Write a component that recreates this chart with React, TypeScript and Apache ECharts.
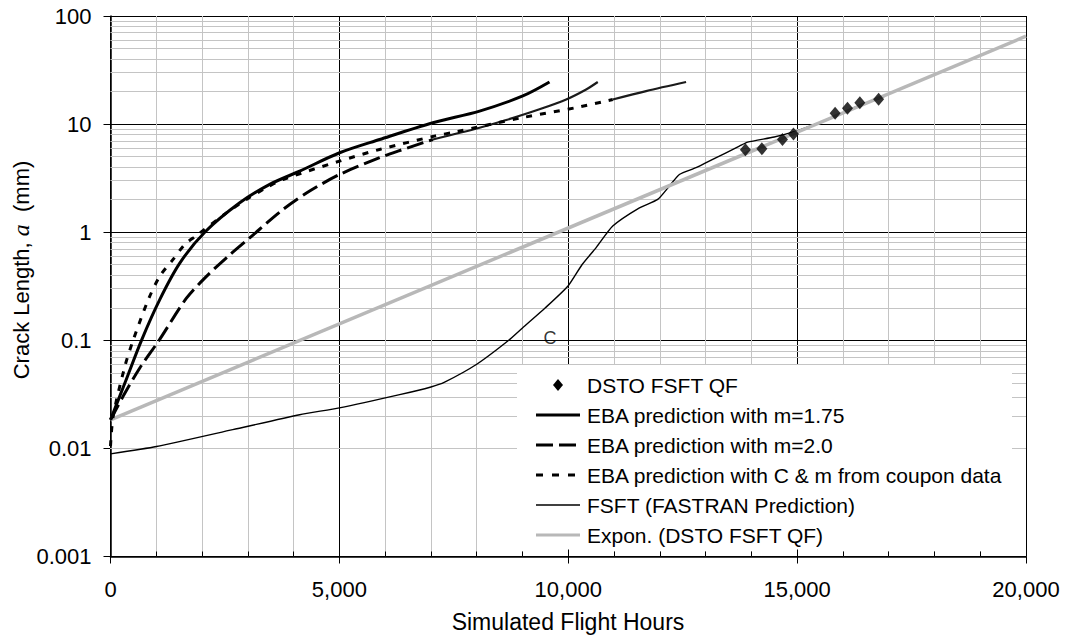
import React, { useEffect, useRef } from 'react';
import * as echarts from 'echarts';

const FONT = '"Liberation Sans", Arial, Helvetica, sans-serif';

// Simulated flight hours vs crack length a (mm)
const dstoFsftQF: [number, number][] = [
  [13870, 5.8], [14230, 5.9], [14680, 7.2], [14920, 8.1],
  [15830, 12.6], [16100, 14.0], [16370, 15.8], [16780, 17.0],
];

const ebaM175: [number, number][] = [
  [0, 0.0184], [312, 0.040], [677, 0.1], [1076, 0.238], [1517, 0.52],
  [2059, 1.0], [2823, 1.87], [3478, 2.77], [4132, 3.67], [5006, 5.43],
  [5879, 7.2], [7043, 10.3], [8063, 13.2], [9008, 18.2], [9590, 24.5],
];

const ebaM20: [number, number][] = [
  [0, 0.0184], [275, 0.0303], [640, 0.0555], [1061, 0.1], [1659, 0.245],
  [2096, 0.39], [2532, 0.58], [3041, 0.887], [3768, 1.62], [4351, 2.4],
  [5006, 3.42], [5879, 4.89], [6279, 5.62], [7043, 7.2], [8063, 9.26],
  [8645, 10.9], [9371, 13.7], [9955, 16.9], [10391, 20.9], [10645, 24.5],
];

const ebaCoupon: [number, number][] = [
  [0, 0.0105], [60, 0.02], [312, 0.057], [494, 0.1], [830, 0.24],
  [1076, 0.39], [1367, 0.56], [1622, 0.77], [1877, 0.93], [2532, 1.51],
  [2969, 2.01], [3405, 2.58], [3768, 3.07], [5000, 4.54], [5879, 5.83],
  [7080, 7.74], [7553, 8.5], [9008, 11.5], [10173, 14.2], [10972, 16.9],
  [11700, 20.2], [12574, 24.5],
];

const fastran: [number, number][] = [
  [0, 0.0089], [1004, 0.0104], [2670, 0.0149], [4133, 0.0205], [5000, 0.0237],
  [6316, 0.0314], [7000, 0.037], [7300, 0.041], [8000, 0.06], [8700, 0.1],
  [9000, 0.13], [9500, 0.2], [10000, 0.32], [10300, 0.5], [10609, 0.72],
  [10972, 1.14], [11555, 1.68], [11954, 2.01], [12209, 2.67], [12428, 3.42],
  [12792, 3.95], [13155, 4.71], [13738, 6.25], [13919, 6.81], [14500, 7.6],
  [14975, 8.6], [15400, 10.0], [15768, 11.5], [16300, 14.5], [16900, 18.0],
];

// Exponential trend of the DSTO FSFT QF points (straight on the log axis)
const exponTrend: [number, number][] = [[0, 0.0184], [20000, 65]];

const annotation: [number, number][] = [[9600, 0.105]];

// Hours after which the dashed predictions continue as a fine solid trace
const m20DashEnd = 7043;
const couponDashEnd = 10972;

const yDecades = [0.001, 0.01, 0.1, 1, 10, 100];
const minorMultipliers = [2, 3, 4, 5, 6, 7, 8, 9];

const seriesNames = [
  'DSTO FSFT QF',
  'EBA prediction with m=1.75',
  'EBA prediction with m=2.0',
  'EBA prediction with C & m from coupon data',
  'FSFT (FASTRAN Prediction)',
  'Expon. (DSTO FSFT QF)',
];

const minorYLines: number[] = [];
yDecades.slice(0, -1).forEach((d) => {
  minorMultipliers.forEach((m) => minorYLines.push(Number((d * m).toPrecision(3))));
});

const fmtThousands = (v: number) => String(Math.round(v)).replace(/\B(?=(\d{3})+(?!\d))/g, ',');
const fmtLog = (v: number) => String(Number(v.toPrecision(3)));

// Hand-drawn legend box (line samples carry the same dash patterns as the series)
const LEG = { left: 517, top: 365, width: 495, height: 186, sampleX: 536, sampleW: 44, textX: 587, firstY: 385, step: 30 };
const dashM20 = [17, 6];
const dashCoupon = [6, 8];

function legendGraphics() {
  const els: any[] = [
    {
      type: 'rect',
      z: 5,
      shape: { x: LEG.left, y: LEG.top, width: LEG.width, height: LEG.height },
      style: { fill: '#ffffff' },
      silent: true,
    },
  ];
  const sampleStyles: any[] = [
    null,
    { stroke: '#000', lineWidth: 3 },
    { stroke: '#000', lineWidth: 3, lineDash: dashM20 },
    { stroke: '#000', lineWidth: 3, lineDash: [7, 9] },
    { stroke: '#000', lineWidth: 1.4 },
    { stroke: '#b8b8b8', lineWidth: 3 },
  ];
  seriesNames.forEach((name, i) => {
    const cy = LEG.firstY + i * LEG.step;
    const cx = LEG.sampleX + LEG.sampleW / 2;
    if (i === 0) {
      els.push({
        type: 'polygon',
        z: 6,
        silent: true,
        shape: { points: [[cx, cy - 6], [cx + 5, cy], [cx, cy + 6], [cx - 5, cy]] },
        style: { fill: '#000' },
      });
    } else {
      els.push({
        type: 'line',
        z: 6,
        silent: true,
        shape: { x1: LEG.sampleX, y1: cy, x2: LEG.sampleX + LEG.sampleW, y2: cy },
        style: sampleStyles[i],
      });
    }
    els.push({
      type: 'text',
      z: 6,
      silent: true,
      x: LEG.textX,
      y: cy,
      style: {
        text: name,
        fontFamily: FONT,
        fontSize: 21,
        fill: '#000',
        align: 'left',
        verticalAlign: 'middle',
      },
    });
  });
  return els;
}

export default function App() {
  const ref = useRef<HTMLDivElement>(null);

  useEffect(() => {
    if (!ref.current) return;
    const chart = echarts.init(ref.current, undefined, { renderer: 'svg' });

    const option: any = {
      animation: false,
      backgroundColor: '#ffffff',
      grid: { left: 110.5, top: 16, right: 41, bottom: 80.5, containLabel: false },
      xAxis: [
        {
          type: 'value',
          min: 0,
          max: 20000,
          interval: 5000,
          axisLine: { show: true, onZero: false, lineStyle: { color: '#000', width: 1.5 } },
          axisTick: { show: true, length: 7, lineStyle: { color: '#000', width: 1 } },
          axisLabel: {
            formatter: (v: number) => fmtThousands(v),
            fontFamily: FONT,
            fontSize: 22,
            color: '#000',
            margin: 22,
          },
          splitLine: { show: true, lineStyle: { color: '#000', width: 1 } },
          minorTick: { show: false, splitNumber: 5 },
          minorSplitLine: { show: true, lineStyle: { color: '#c4c4c4', width: 1 } },
        },
        {
          type: 'value',
          min: 0,
          max: 20000,
          interval: 5000,
          position: 'bottom',
          z: 10,
          axisLine: { show: false },
          axisLabel: { show: false },
          splitLine: { show: false },
          axisTick: { show: true, inside: true, length: 7, lineStyle: { color: '#000', width: 1 } },
          minorTick: { show: true, splitNumber: 5, length: 5, lineStyle: { color: '#000', width: 1 } },
        },
      ],
      yAxis: {
        type: 'log',
        logBase: 10,
        min: yDecades[0],
        max: yDecades[yDecades.length - 1],
        axisLine: { show: true, lineStyle: { color: '#000', width: 1.5 } },
        axisTick: { show: true, length: 7, lineStyle: { color: '#000', width: 1 } },
        axisLabel: {
          formatter: (v: number) => fmtLog(v),
          fontFamily: FONT,
          fontSize: 22,
          color: '#000',
          margin: 19,
        },
        splitLine: { show: true, lineStyle: { color: '#000', width: 1 } },
      },
      series: [
        {
          name: seriesNames[0],
          type: 'scatter',
          data: dstoFsftQF,
          symbol: 'diamond',
          symbolSize: [11, 13],
          itemStyle: { color: '#000' },
          z: 6,
        },
        {
          name: seriesNames[1],
          type: 'line',
          data: ebaM175,
          symbol: 'none',
          smooth: 0.3,
          lineStyle: { color: '#000', width: 3 },
          z: 4,
        },
        {
          name: seriesNames[2],
          type: 'line',
          data: ebaM20.filter((p) => p[0] <= m20DashEnd),
          symbol: 'none',
          smooth: 0.3,
          lineStyle: { color: '#000', width: 3, type: dashM20 },
          z: 4,
        },
        {
          name: seriesNames[2],
          type: 'line',
          data: ebaM20.filter((p) => p[0] >= m20DashEnd),
          symbol: 'none',
          smooth: 0.3,
          lineStyle: { color: '#1a1a1a', width: 2.2 },
          z: 4,
        },
        {
          name: seriesNames[3],
          type: 'line',
          data: ebaCoupon.filter((p) => p[0] <= couponDashEnd),
          symbol: 'none',
          smooth: 0.3,
          lineStyle: { color: '#000', width: 3, type: dashCoupon },
          z: 4,
        },
        {
          name: seriesNames[3],
          type: 'line',
          data: ebaCoupon.filter((p) => p[0] >= couponDashEnd),
          symbol: 'none',
          smooth: 0.3,
          lineStyle: { color: '#1a1a1a', width: 2.2 },
          z: 4,
        },
        {
          name: seriesNames[4],
          type: 'line',
          data: fastran,
          symbol: 'none',
          smooth: 0.2,
          lineStyle: { color: '#000', width: 1.4 },
          z: 3,
        },
        {
          name: seriesNames[5],
          type: 'line',
          data: exponTrend,
          symbol: 'none',
          lineStyle: { color: '#b8b8b8', width: 3.5 },
          z: 3,
          markLine: {
            silent: true,
            z: 1,
            symbol: ['none', 'none'],
            label: { show: false },
            lineStyle: { color: '#c4c4c4', width: 1, type: 'solid' },
            emphasis: { disabled: true },
            data: minorYLines.map((v) => ({ yAxis: v })),
          },
        },
        {
          name: 'annotation',
          type: 'scatter',
          data: annotation,
          symbolSize: 0,
          silent: true,
          z: 7,
          label: {
            show: true,
            position: 'inside',
            formatter: 'C',
            fontFamily: FONT,
            fontSize: 18,
            color: '#000',
          },
        },
      ],
      graphic: [
        ...legendGraphics(),
        {
          type: 'text',
          x: 568,
          y: 622,
          style: {
            text: 'Simulated Flight Hours',
            fontFamily: FONT,
            fontSize: 23,
            fill: '#000',
            align: 'center',
            verticalAlign: 'middle',
          },
        },
        {
          type: 'text',
          x: 21,
          y: 270,
          rotation: Math.PI / 2,
          style: {
            text: '{n|Crack Length, }{i|a}{n|  (mm)}',
            align: 'center',
            verticalAlign: 'middle',
            fill: '#000',
            rich: {
              n: { fontFamily: FONT, fontSize: 22, fill: '#000' },
              i: {
                fontFamily: '"Liberation Serif", "Times New Roman", serif',
                fontStyle: 'italic',
                fontSize: 24,
                fill: '#000',
              },
            },
          },
        },
      ],
    };

    chart.setOption(option);
    return () => chart.dispose();
  }, []);

  return (
    <div
      ref={ref}
      style={{ position: 'fixed', left: 0, top: 0, width: 1067, height: 637, background: '#fff' }}
    />
  );
}
